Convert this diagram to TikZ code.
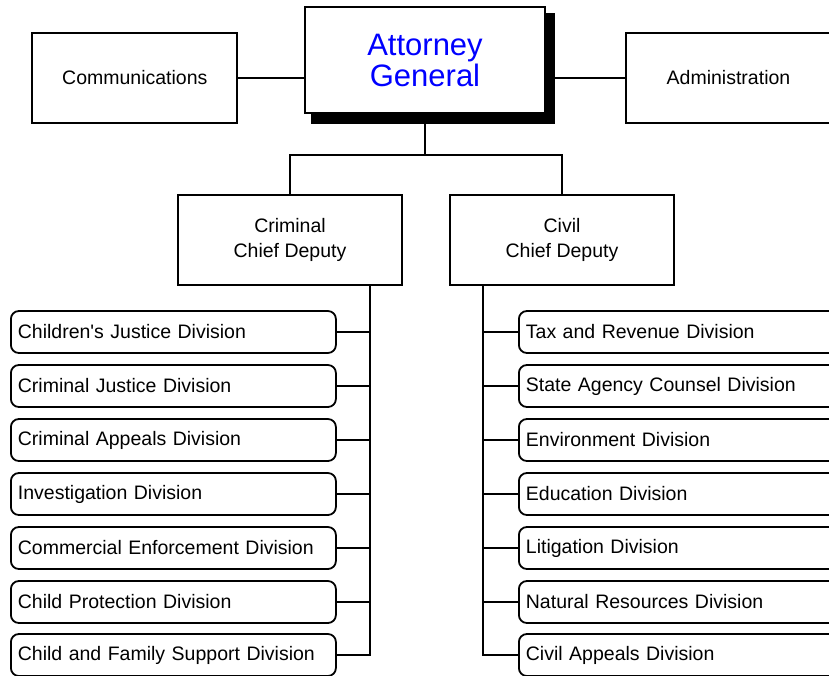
\documentclass[tikz,border=0pt]{standalone}
\usepackage{fontspec}
\setmainfont{Liberation Sans}
\begin{document}
\begin{tikzpicture}[x=1pt,y=-1pt,
  every node/.style={font=\fontsize{19.5}{24}\selectfont, line width=1.8pt},
  topbox/.style={draw, fill=white, rectangle, minimum width=205pt, minimum height=90pt, align=center, inner sep=0pt},
  agbox/.style={draw, fill=white, rectangle, minimum width=240pt, minimum height=106pt, align=center, inner sep=0pt, text=agblue, font=\fontsize{31}{31}\selectfont},
  deputybox/.style={draw, fill=white, rectangle, minimum width=224pt, minimum height=90pt, align=center, inner sep=0pt, font=\fontsize{19.5}{25}\selectfont},
  divbox/.style={draw, fill=white, rectangle, rounded corners=8pt, minimum height=42pt, text width=311pt, inner xsep=7pt, inner ysep=0pt, align=left, anchor=west},
  conn/.style={draw, line width=1.8pt}
]
\definecolor{agblue}{RGB}{0,0,255}
\useasboundingbox (0,0) rectangle (829,676);
\clip (0,0) rectangle (829,676);

% top row
\fill ([xshift=6pt,yshift=-6pt]{305,7}) rectangle (555,124);
\node[agbox] (ag) at (425,60) {Attorney\\General};
\node[topbox] (comm) at (134.8,77.7) {Communications};
\node[topbox] (admin) at (728.5,77.7) {Administration};

\draw[conn] (comm.east) -- (comm.east -| ag.west);
\draw[conn] (ag.east |- admin.west) -- (admin.west);

% deputies
\node[deputybox] (crim) at (290,240) {Criminal\\Chief Deputy};
\node[deputybox] (civ) at (562,240) {Civil\\Chief Deputy};
\coordinate (split) at (425,155);
\draw[conn] (ag.south) -- (split);
\draw[conn] (split) -| (crim.north);
\draw[conn] (split) -| (civ.north);

% left divisions
\node[divbox] (l1) at (10,332) {Children\textquotesingle s Justice Division};
\node[divbox] (l2) at (10,386) {Criminal Justice Division};
\node[divbox] (l3) at (10,440) {Criminal Appeals Division};
\node[divbox] (l4) at (10,494) {Investigation Division};
\node[divbox] (l5) at (10,548) {Commercial Enforcement Division};
\node[divbox] (l6) at (10,602) {Child Protection Division};
\node[divbox] (l7) at (10,655) {Child and Family Support Division};

% right divisions
\node[divbox] (r1) at (518,332) {Tax and Revenue Division};
\node[divbox] (r2) at (518,386) {State Agency Counsel Division};
\node[divbox] (r3) at (518,440) {Environment Division};
\node[divbox] (r4) at (518,494) {Education Division};
\node[divbox] (r5) at (518,548) {Litigation Division};
\node[divbox] (r6) at (518,602) {Natural Resources Division};
\node[divbox] (r7) at (518,655) {Civil Appeals Division};

\coordinate (lbus) at (370,285);
\coordinate (rbus) at (483,285);
\draw[conn] (lbus) |- (l7.east);
\draw[conn] (rbus) |- (r7.west);
\foreach \i in {1,...,6} {
  \draw[conn] (l\i.east) -- (l\i.east -| lbus);
  \draw[conn] (r\i.west) -- (r\i.west -| rbus);
}
\end{tikzpicture}
\end{document}
